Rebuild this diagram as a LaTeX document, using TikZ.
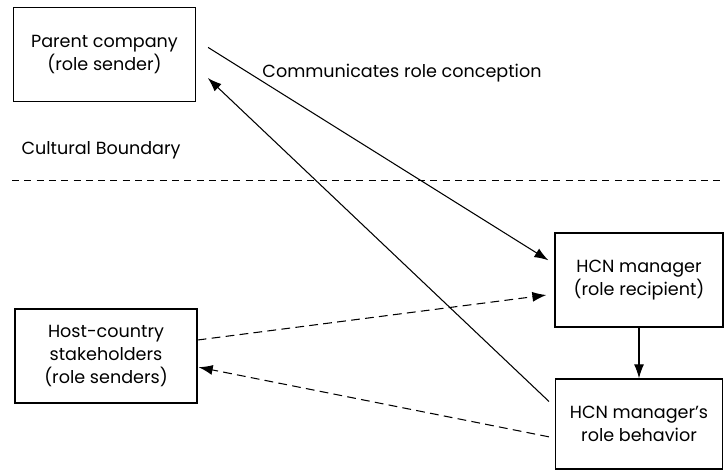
\documentclass[tikz,border=0pt]{standalone}
\usepackage{fontspec}
\setmainfont{Poppins}
\usetikzlibrary{arrows.meta, positioning, calc}

\begin{document}
\begin{tikzpicture}[
    rolebox/.style={rectangle, draw, line width=0.8pt, minimum width=3.64cm, minimum height=1.88cm, align=center, font=\fontsize{10}{13}\selectfont},
    arrow/.style={-{Latex[length=2.8mm, width=2mm]}, line width=0.6pt},
    dasharrow/.style={arrow, dash pattern=on 5pt off 3pt},
    lbl/.style={font=\fontsize{10}{13}\selectfont}
]
    \useasboundingbox (0,0) rectangle (14.5,-9.42);

    % Parent company
    \node[rolebox] (parent) at (2.09, -1.09) {Parent company\\(role sender)};

    % Host-country stakeholders
    \node[rolebox] (host) at (2.12, -7.12) {Host-country\\stakeholders\\(role senders)};

    % HCN manager
    \node[rolebox, minimum width=3.36cm] (hcn) at (12.78, -5.6) {HCN manager\\(role recipient)};
    \node[rolebox, minimum width=3.34cm, minimum height=1.8cm] (beh) at (12.78, -8.48) {HCN manager's\\role behavior};
    \draw[arrow] (hcn) -- (beh);

    % Cultural boundary
    \coordinate (bl) at (0.24, -3.6);
    \coordinate (br) at (14.5, -3.6);
    \draw[line width=0.5pt, dash pattern=on 4pt off 3pt] (bl) -- (br);
    \node[lbl] (cult) at (2.02, -3.0) {Cultural Boundary};

    % Role sending
    \draw[arrow, shorten <=0.28cm, shorten >=0.14cm] ([yshift=0.29cm]parent.east) -- ([yshift=0.32cm]hcn.west);
    \draw[arrow, shorten <=0.16cm, shorten >=0.32cm] ([yshift=0.34cm]beh.west) -- ([yshift=-0.25cm]parent.east);
    \node[lbl] (comm) at (8.04, -1.46) {Communicates role conception};

    % Host-country expectations
    \draw[dasharrow, shorten >=0.16cm] ([yshift=0.32cm]host.east) -- ([yshift=-0.28cm]hcn.west);
    \draw[dasharrow, shorten <=0.12cm, shorten >=0.02cm] ([yshift=-0.28cm]beh.west) -- ([yshift=-0.22cm]host.east);
\end{tikzpicture}
\end{document}
